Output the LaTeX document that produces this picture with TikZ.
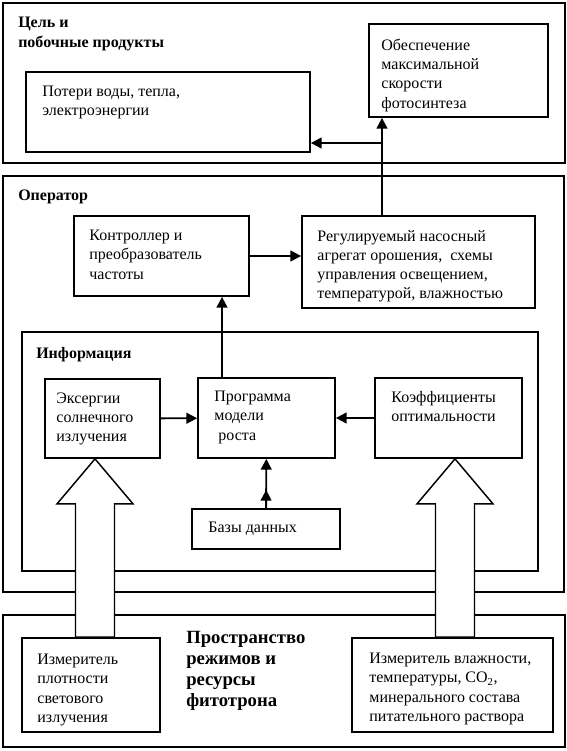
\documentclass[tikz,border=0pt]{standalone}
\usepackage{fontspec}
\setmainfont{Liberation Serif}
\usetikzlibrary{arrows.meta,calc,fit}
\pgfdeclarelayer{frames}
\pgfdeclarelayer{pipes}
\pgfsetlayers{frames,pipes,main}

\tikzset{
	blok/.style={draw, line width=1.3pt, inner sep=0pt},
	txt/.style={anchor=north west, inner sep=0pt, align=left, font=\fontsize{12}{14.3}\selectfont},
	head/.style={txt, font=\fontsize{12}{14.8}\selectfont\bfseries},
	arr/.style={line width=1.4pt, -{Triangle[length=8pt,width=8pt]}},
	pipe/.style={draw, fill=white, line width=1.1pt, line join=miter},
	frame/.style={line width=1.3pt}
}

\begin{document}
\begin{tikzpicture}[x=0.75pt, y=-0.75pt]
			%%%%% START %%%%%
			\useasboundingbox (0,0) rectangle (567,751);
			
			\begin{pgfonlayer}{frames}
			\draw[frame] (3,3) rectangle (565,163);
			\draw[frame] (3,176) rectangle (564,592);
			\draw[line width=0.9pt] (22,332) rectangle (538,571);
			\draw[frame] (3,615) rectangle (565,747);
			\end{pgfonlayer}
			
			\node[head] (tgoal) at (18,17) {Цель и\\побочные продукты};
			\node[head] (toper) at (18,190) {Оператор};
			\node[head] (tinfo) at (36,347) {Информация};
			\node[head, font=\fontsize{14}{15.8}\selectfont\bfseries] (tspace) at (186,631) {Пространство\\режимов и\\ресурсы\\фитотрона};
			
			% goal
			\node[blok, fit={(26,72) (310,152)}] (loss) {};
			\node[txt] (tloss) at ([shift={(17,15)}]loss.north west) {Потери воды, тепла,\\электроэнергии};
			\node[blok, fit={(369,24) (548,117)}] (max) {};
			\node[txt] (tmax) at ([shift={(13,16)}]max.north west) {Обеспечение\\максимальной\\скорости\\фотосинтеза};
			
			% operator
			\node[blok, fit={(74,216) (249,296)}] (ctrl) {};
			\node[txt] (tctrl) at ([shift={(16,15)}]ctrl.north west) {Контроллер и\\преобразователь\\частоты};
			\node[blok, fit={(302,216) (535,308)}] (reg) {};
			\node[txt] (treg) at ([shift={(16,15)}]reg.north west) {Регулируемый насосный\\агрегат орошения,\ \ схемы\\управления освещением,\\температурой, влажностью};
			
			% information
			\node[blok, fit={(45,379) (160,458)}] (exer) {};
			\node[txt] (texer) at ([shift={(12,14)}]exer.north west) {Эксергии\\солнечного\\излучения};
			\node[blok, fit={(198,378) (335,458)}] (prog) {};
			\node[txt] (tprog) at ([shift={(17,14)}]prog.north west) {Программа\\модели\\\hspace*{0.25em}роста};
			\node[blok, fit={(375,378) (522,458)}] (coef) {};
			\node[txt] (tcoef) at ([shift={(17,14)}]coef.north west) {Коэффициенты\\оптимальности};
			\node[blok, fit={(192,509) (340,549)}] (db) {};
			\node[txt] (tdb) at ([shift={(17,14)}]db.north west) {Базы данных};
			
			% space
			\node[blok, fit={(22,638) (160,732)}] (meas1) {};
			\node[txt] (tmeas1) at ([shift={(16,17)}]meas1.north west) {Измеритель\\плотности\\светового\\излучения};
			\node[blok, fit={(352,638) (553,732)}] (meas2) {};
			\node[txt] (tmeas2) at ([shift={(18,16)}]meas2.north west) {Измеритель влажности,\\температуры, CO\textsubscript{2},\\минерального состава\\питательного раствора};
			
			% arrows
			\coordinate (jn) at (382,143);
			\coordinate (upx) at (222,0);
			\draw[arr] (reg.north -| jn) -- (max.south -| jn);
			\draw[arr] (jn) -- (jn -| loss.east);
			\draw[arr] (ctrl.east) -- (ctrl.east -| reg.west);
			\draw[arr] (prog.north -| upx) -- (ctrl.south -| upx);
			\draw[arr] (exer) -- (prog);
			\draw[arr] (coef) -- (prog);
			\draw[arr] (db) -- (prog);
			\draw[arr] (db.north) -- ($(db.north)!0.37!(prog.south)$);
			
			% hollow arrows
			\coordinate (lpipe) at (95,0);
			\coordinate (rpipe) at (455,0);
			\begin{pgfonlayer}{pipes}
			\draw[pipe] (lpipe |- exer.south) -- ++(38,45) -- ++(-18.5,0)
				-- ($(lpipe |- meas1.north)+(19.5,0)$) -- ($(lpipe |- meas1.north)+(-19.5,0)$)
				-- ($(lpipe |- exer.south)+(-19.5,45)$) -- ++(-18.5,0) -- cycle;
			\draw[pipe] (rpipe |- coef.south) -- ++(38,45) -- ++(-18.5,0)
				-- ($(rpipe |- meas2.north)+(19.5,0)$) -- ($(rpipe |- meas2.north)+(-19.5,0)$)
				-- ($(rpipe |- coef.south)+(-19.5,45)$) -- ++(-18.5,0) -- cycle;
			\end{pgfonlayer}
			%%%%% END %%%%%
\end{tikzpicture}
\end{document}
